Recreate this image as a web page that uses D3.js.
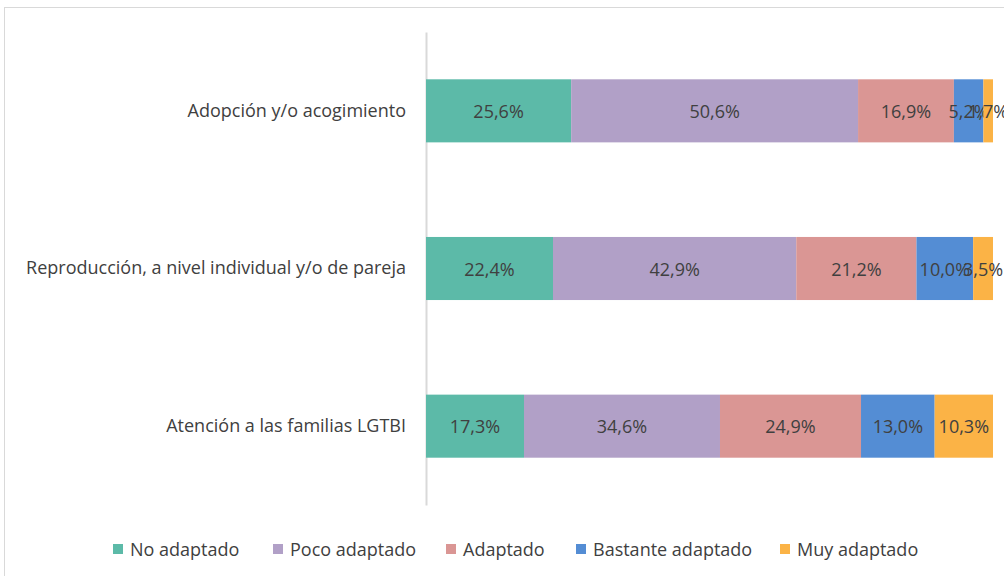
<!DOCTYPE html>
<html>
<head>
<meta charset="utf-8">
<script src="https://cdn.jsdelivr.net/npm/d3@7"></script>
<style>
  body { margin: 0; background: #fff; }
  svg text { font-family: "Open Sans", "Noto Sans", sans-serif; fill: #404040; }
</style>
</head>
<body>
<div class="chart_container"></div>
<script>
// categories, top to bottom
const categories = ["Adopción y/o acogimiento", "Reproducción, a nivel individual y/o de pareja", "Atención a las familias LGTBI"];
const seriesNames = ["No adaptado", "Poco adaptado", "Adaptado", "Bastante adaptado", "Muy adaptado"];
const noAdaptado = [25.6, 22.4, 17.3];
const pocoAdaptado = [50.6, 42.9, 34.6];
const adaptado = [16.9, 21.2, 24.9];
const bastanteAdaptado = [5.2, 10.0, 13.0];
const muyAdaptado = [1.7, 3.5, 10.3];
const colors = ["#5cbaa8", "#b1a0c7", "#da9694", "#548dd4", "#fbb346"];

const width = 1004;
const height = 576;
const fontSize = "18px";

const svg = d3.select(".chart_container").append("svg")
  .attr("width", width).attr("height", height);

// outer frame
svg.append("rect").attr("x", 4.5).attr("y", 7.5).attr("width", width).attr("height", height)
  .attr("fill", "none").attr("stroke", "#d9d9d9");

const rows = categories.map((c, i) => {
  const vals = [noAdaptado[i], pocoAdaptado[i], adaptado[i], bastanteAdaptado[i], muyAdaptado[i]];
  const row = { cat: c };
  seriesNames.forEach((s, j) => row[s] = vals[j]);
  return row;
});

const stack = d3.stack().keys(seriesNames).offset(d3.stackOffsetExpand);
const stacked = stack(rows);

const x = d3.scaleLinear().domain([0, 1]).range([426, 993]);
const y = d3.scaleBand().domain(categories).range([32, 505]).paddingInner(0.6).paddingOuter(0.3);

// category axis
const yAxis = d3.axisLeft(y).tickSize(0).tickPadding(20);
const gy = svg.append("g").attr("transform", "translate(426,0)").call(yAxis);
gy.select(".domain").attr("stroke", "#d9d9d9").attr("stroke-width", 2);
gy.selectAll("text").style("font-size", fontSize).attr("fill", "#404040")
  .style("font-family", "'Open Sans', sans-serif");

const groups = svg.selectAll("g.series").data(stacked).enter().append("g")
  .attr("class", "series").attr("fill", (d, i) => colors[i]);

groups.selectAll("rect").data(d => d.map(p => ({ p, key: d.key }))).enter().append("rect")
  .attr("x", d => x(d.p[0]))
  .attr("y", d => y(d.p.data.cat))
  .attr("width", d => x(d.p[1]) - x(d.p[0]))
  .attr("height", y.bandwidth());

groups.selectAll("text").data(d => d.map(p => ({ p, key: d.key }))).enter().append("text")
  .attr("x", d => (x(d.p[0]) + x(d.p[1])) / 2)
  .attr("y", d => y(d.p.data.cat) + y.bandwidth() / 2)
  .attr("text-anchor", "middle").attr("dominant-baseline", "central")
  .style("font-size", fontSize)
  .text(d => d.p.data[d.key].toFixed(1).replace(".", ",") + "%");

// legend
const legendX = [113, 273, 446, 576, 780];
const legend = svg.append("g");
seriesNames.forEach((s, i) => {
  legend.append("rect").attr("x", legendX[i]).attr("y", 544).attr("width", 10).attr("height", 10).attr("fill", colors[i]);
  legend.append("text").attr("x", legendX[i] + 17).attr("y", 549).attr("dominant-baseline", "central")
    .style("font-size", fontSize).text(s);
});
</script>
</body>
</html>
